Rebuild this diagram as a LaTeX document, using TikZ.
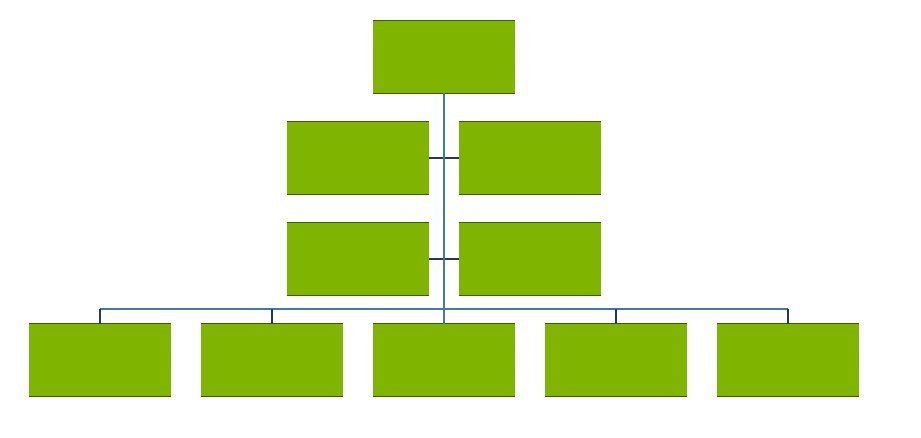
\documentclass[tikz,border=0pt]{standalone}
\usepackage{tikz}
\usetikzlibrary{positioning}
\definecolor{leaf}{RGB}{127,180,0}
\definecolor{rimgreen}{RGB}{62,92,0}
\definecolor{trunkblue}{RGB}{68,121,168}
\definecolor{navy}{RGB}{33,58,88}
\tikzstyle{unit} = [fill=leaf,draw=none,rectangle,inner sep=0,minimum width=2.84cm,minimum height=1.44cm]
\tikzstyle{rim} = [draw=rimgreen,line width=0.6pt]
\tikzstyle{trunk} = [draw=trunkblue,line width=1.1pt]
\tikzstyle{bar} = [draw=trunkblue,line width=0.75pt]
\tikzstyle{drop} = [draw=navy,line width=1.1pt]
\tikzstyle{link} = [draw=navy,line width=1.5pt]

\begin{document}
\begin{tikzpicture}[x=0.02cm,y=-0.02cm]
      \useasboundingbox (0,0) rectangle (921,438);
      \node[unit] (top) at (444,57) {};
      \node[unit] (l1) at (358,158) {};
      \node[unit] (r1) at (530,158) {};
      \node[unit] (l2) at (358,259) {};
      \node[unit] (r2) at (530,259) {};
      \foreach \i/\x in {1/100,2/272,3/444,4/616,5/788}
        \node[unit] (b\i) at (\x,360) {};
      \foreach \n in {top,l1,r1,l2,r2,b1,b2,b3,b4,b5}
        \draw[rim] (\n.north west) -- (\n.north east) (\n.south west) -- (\n.south east);
      \coordinate (bar) at (444,309);
      \draw[link] (l1.east) -- (r1.west);
      \draw[link] (l2.east) -- (r2.west);
      \draw[bar] (b1.north |- bar) -- (b5.north |- bar);
      \foreach \i in {1,2,4,5}
        \draw[drop] (b\i.north |- bar) -- (b\i.north);
      \draw[trunk] (top.south) -- (b3.north);
\end{tikzpicture}
\end{document}
